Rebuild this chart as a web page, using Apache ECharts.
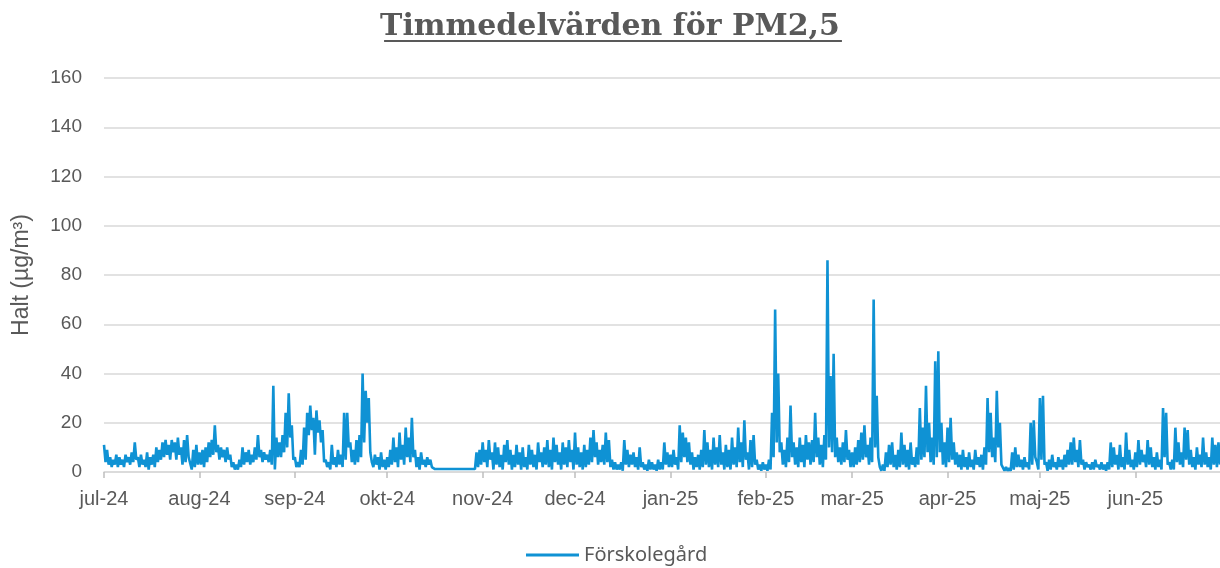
<!DOCTYPE html>
<html>
<head>
<meta charset="utf-8">
<script src="https://cdn.jsdelivr.net/npm/echarts@6/dist/echarts.min.js"></script>
<style>
  html, body { margin: 0; padding: 0; background: #fff; }
  #chart { width: 1220px; height: 568px; }
</style>
</head>
<body>
<div id="chart"></div>
<script>
// Timmedelvärden PM2,5, två avläsningar per dygn (00 och 12), läst ur bilden
var jul24 = [11,4, 9,3, 6,2, 5,3, 7,2, 6,3, 5,2, 7,4, 6,3, 8,4, 12,5, 6,2, 7,3, 5,2, 8,1, 6,3, 7,2, 10,4, 9,5, 12,6, 13,7, 11,5, 13,8, 12,5, 14,7, 10,3, 13,4, 15,6, 6,1, 9,2, 11,3];
var aug24 = [8,3, 9,2, 10,4, 12,6, 13,7, 19,8, 11,5, 10,6, 9,4, 10,5, 7,2, 4,1, 3,1, 5,2, 10,3, 8,4, 9,3, 7,4, 10,5, 15,6, 9,4, 8,5, 7,4, 9,3, 35,1, 14,6, 12,6, 15,8, 24,10, 32,14, 19,5];
var sep24 = [6,2, 4,2, 9,3, 18,5, 24,15, 27,17, 22,7, 25,16, 21,12, 17,4, 5,2, 4,1, 11,3, 6,2, 9,3, 7,2, 24,5, 24,10, 12,4, 9,3, 13,4, 15,6, 40,12, 33,20, 30,8, 4,2, 7,3, 6,1, 8,2, 5,1];
var okt24 = [6,2, 9,3, 14,4, 10,2, 16,5, 11,3, 18,6, 14,4, 22,6, 9,2, 6,1, 8,3, 5,2, 6,3, 5,2,
  1.2,1.2, 1.2,1.2, 1.2,1.2, 1.2,1.2, 1.2,1.2, 1.2,1.2, 1.2,1.2, 1.2,1.2, 1.2,1.2, 1.2,1.2, 1.2,1.2, 1.2,1.2, 1.2,1.2, 1.2,1.2,
  8,2, 9,3];
var nov24 = [12,4, 9,2, 13,5, 8,1, 12,3, 10,2, 7,1, 11,4, 13,3, 9,1, 7,2, 11,3, 8,1, 10,2, 6,1, 11,3, 9,2, 7,1, 12,4, 8,2, 10,3, 13,2, 9,1, 14,4, 11,3, 8,1, 12,3, 10,2, 13,4, 9,1];
var dec24 = [16,3, 10,2, 8,1, 11,2, 9,3, 14,4, 17,6, 12,3, 9,4, 11,3, 16,4, 13,2, 5,1, 4,1, 3,1, 4,0.5, 13,3, 9,2, 7,3, 8,2, 6,1, 10,2, 4,1, 3,0.5, 5,1, 4,1, 3,0.5, 5,1, 4,1, 12,3, 8,2];
var jan25 = [7,2, 9,3, 6,1, 19,4, 16,6, 14,4, 12,3, 8,1, 6,2, 7,1, 9,2, 17,3, 12,2, 9,1, 14,3, 10,2, 15,3, 8,1, 11,2, 9,1, 14,3, 10,2, 18,4, 12,2, 21,5, 8,1, 13,2, 15,3, 5,1, 3,0.5, 4,1];
var feb25 = [3,0.5, 5,1, 24,6, 66,12, 40,8, 12,3, 9,2, 14,4, 27,6, 12,3, 10,2, 14,4, 11,2, 15,5, 12,3, 13,4, 24,6, 14,3, 11,2, 15,5, 86,10, 39,8, 48,6, 14,4, 10,3, 12,4, 17,5, 9,2];
var mar25 = [8,2, 10,3, 13,4, 16,5, 19,6, 11,3, 14,4, 70,10, 31,6, 2,0.5, 3,0.5, 8,2, 11,3, 12,2, 7,1, 9,2, 16,3, 11,2, 9,1, 12,3, 6,2, 10,3, 26,5, 18,6, 35,8, 20,4, 14,3, 45,6, 49,8, 20,3, 12,2];
var apr25 = [18,4, 22,5, 12,3, 8,2, 7,1, 9,2, 6,1, 8,2, 5,1, 9,3, 6,2, 7,1, 10,3, 30,8, 24,6, 14,4, 33,10, 20,3, 3,0.5, 2,0.5, 1.5,0.5, 8,1, 10,2, 7,2, 5,1, 6,2, 4,1, 20,3, 21,6, 4,1];
var maj25 = [30,5, 31,3, 4,0.5, 5,1, 7,2, 4,1, 6,2, 5,1, 7,2, 9,3, 12,3, 14,4, 9,2, 13,3, 5,1, 4,2, 3,1, 4,1, 5,2, 3,1, 4,1, 3,0.5, 4,1, 12,2, 10,3, 7,1, 11,2, 6,1, 16,3, 9,2, 5,1];
var jun25 = [8,2, 13,3, 9,4, 7,2, 13,3, 10,2, 6,1, 8,2, 5,1, 26,6, 24,3, 4,1, 5,1, 18,4, 12,3, 8,2, 18,5, 17,3, 9,2, 6,1, 10,3, 7,2, 14,3, 8,2, 6,1, 14,3, 11,2, 12,3];

var seriesName = 'Förskolegård';
var titleText = 'Timmedelvärden för PM2,5';
var monthNames = ['jan','feb','mar','apr','maj','jun','jul','aug','sep','okt','nov','dec'];

var values = [].concat(jul24, aug24, sep24, okt24, nov24, dec24, jan25, feb25, mar25, apr25, maj25, jun25);
var start = Date.UTC(2024, 6, 1);
var times = values.map(function (v, i) {
  return new Date(start + i * 12 * 3600 * 1000).toISOString().slice(0, 13);
});

function isMonthStart(i, v) {
  return v.slice(8, 13) === '01T00';
}

// titelns understrykning
var titleFont = 'bold 30px "DejaVu Serif"';
var ctx = document.createElement('canvas').getContext('2d');
ctx.font = titleFont;
var titleW = ctx.measureText(titleText).width - 2;

var dom = echarts.init(document.getElementById('chart'));
dom.setOption({
  animation: false,
  color: ['#0f92d4'],
  title: {
    text: titleText,
    left: 'center',
    top: 7,
    textStyle: {
      fontFamily: 'DejaVu Serif',
      fontWeight: 'bold',
      fontSize: 30,
      color: '#595959'
    }
  },
  graphic: [{
    type: 'line',
    shape: { x1: 613 - titleW / 2, y1: 41, x2: 613 + titleW / 2, y2: 41 },
    style: { stroke: '#595959', lineWidth: 2 }
  }],
  legend: {
    top: 540,
    left: 521,
    icon: 'rect',
    itemWidth: 53,
    itemHeight: 3,
    textStyle: { fontFamily: 'Noto Sans', fontSize: 20, color: '#595959' },
    data: [seriesName]
  },
  grid: {
    left: 104,
    right: 0,
    top: 78,
    bottom: 96,
    outerBoundsMode: 'none'
  },
  xAxis: {
    type: 'category',
    boundaryGap: false,
    data: times,
    axisLine: { lineStyle: { color: '#d9d9d9', width: 1.5 } },
    axisTick: {
      interval: isMonthStart,
      length: 6,
      lineStyle: { color: '#bfbfbf', width: 1.5 }
    },
    axisLabel: {
      interval: isMonthStart,
      margin: 17,
      fontFamily: 'Liberation Sans',
      fontSize: 20,
      color: '#595959',
      formatter: function (v) {
        return monthNames[+v.slice(5, 7) - 1] + '-' + v.slice(2, 4);
      }
    },
    splitLine: { show: false }
  },
  yAxis: {
    type: 'value',
    min: 0,
    max: 160,
    interval: 20,
    name: 'Halt (µg/m³)',
    nameLocation: 'middle',
    nameRotate: 90,
    nameGap: 71,
    nameTextStyle: { fontFamily: 'Liberation Sans', fontSize: 23, color: '#595959' },
    axisLine: { show: false },
    axisTick: { show: false },
    axisLabel: { margin: 22, fontFamily: 'Liberation Sans', fontSize: 19, color: '#595959' },
    splitLine: { lineStyle: { color: '#d9d9d9', width: 1.5 } }
  },
  series: [{
    name: seriesName,
    type: 'line',
    symbol: 'none',
    lineStyle: { width: 2.6 },
    data: values
  }]
});
</script>
</body>
</html>
